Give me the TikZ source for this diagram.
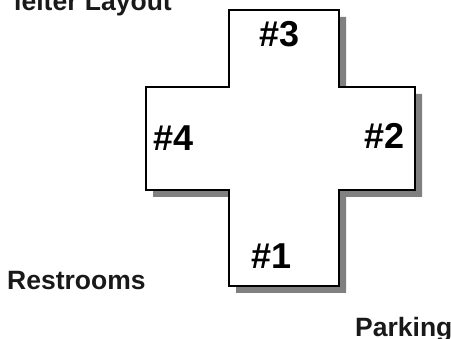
\documentclass[tikz,border=0pt]{standalone}
\usepackage{fontspec}
\setmainfont{Liberation Sans}
\usepackage{tikz}
\usetikzlibrary{positioning,calc}

\begin{document}
\begin{tikzpicture}[x=1pt,y=-1pt]
					\definecolor{shadowgray}{RGB}{128,128,128}
					\tikzset{
						hallwall/.style={
							draw=black,
							line width=2.8pt,
							line join=miter,
							fill=white
						},
						hallshadow/.style={
							fill=shadowgray,
							draw=none
						},
						sectlabel/.style={
							font=\fontsize{36}{38}\selectfont\bfseries,
							text=black,
							inner sep=0pt
						},
						placelabel/.style={
							font=\fontsize{26.5}{28}\selectfont\bfseries,
							text=black!90,
							inner sep=0pt
						}
					}
					\useasboundingbox (0,0) rectangle (451,339);
					
					% shadow first, then the cross
					\fill[hallshadow, shift={(7,7)}]
						(229,10) -- (339,10) -- (339,87) -- (415,87) -- (415,190)
						-- (339,190) -- (339,286) -- (229,286) -- (229,190)
						-- (146,190) -- (146,87) -- (229,87) -- cycle;
					\draw[hallwall]
						(229,10) -- (339,10) -- (339,87) -- (415,87) -- (415,190)
						-- (339,190) -- (339,286) -- (229,286) -- (229,190)
						-- (146,190) -- (146,87) -- (229,87) -- cycle;
					
					\node[sectlabel] (sec3) at (280,34) {\#3};
					\node[sectlabel] (sec2) at (385,136) {\#2};
					\node[sectlabel] (sec4) at (174,138) {\#4};
					\node[sectlabel] (sec1) at (272,256) {\#1};
					
					\node[placelabel, anchor=base east] (title) at (172,11) {leiter Layout};
					\node[placelabel, anchor=base west] (rest) at (7,290) {Restrooms};
					\node[placelabel, anchor=base west] (park) at (355,337) {Parking};
				\end{tikzpicture}
\end{document}
